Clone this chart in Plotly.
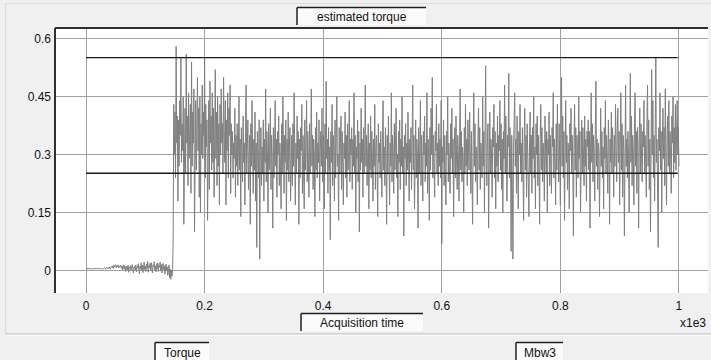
import numpy as np
import plotly.graph_objects as go

# ---------------- data ----------------
sample_step = 0.001  # x1e3 time units between samples

# idle phase, torque in thousandths
torque_idle_milli = [
    5, 5, 4, 5, 5, 6, 5, 4, 5, 5, 6, 5, 5, 4, 5, 6, 5, 5, 6, 7, 5, 4, 5, 6, 6, 5, 4, 6, 5, 5,
    6, 8, 5, 4, 7, 9, 6, 5, 8, 10, 7, 4, 9, 11, 8, 12, 6, 14, 9, 11, 16, 8, 13, 10, 15, 7, 12, 9, 14, 11,
    6, 13, 2, 10, 15, 4, 11, -2, 8, 12, 3, 14, -4, 9, 6, 13, 0, 10, 16, 5, -6, 8, 12, 2, 15, -3, 10, 7, 18, 4,
    -8, 12, 5, 20, 1, 14, -5, 9, 22, 3, 11, -2, 17, 6, 24, -4, 13, 8, 19, 0, 21, 7, -6, 15, 10, 23, 2, 12, -3, 18,
    5, 20, -2, 14, 9, 22, 1, 16, -6, 11, 19, 3, 13, -9, 8, 17, 0, 10, -12, 6, 15, -18, 4, -22, 2, -14, 3,
]

# loaded phase, torque in hundredths
torque_loaded_centi = [
    8, 43, 30, 41, 24, 58, 33, 40, 18, 39, 27, 44, 35, 55, 28, 38, 31, 45, 12, 34, 42, 25, 56, 33, 40, 22, 46, 29, 38, 43, 20, 54, 27, 41, 33, 47, 10, 36, 44, 26, 39, 50, 31, 42, 19, 45, 15, 38, 30, 48,
    29, 41, 35, 55, 24, 43, 32, 39, 13, 37, 44, 21, 49, 33, 40, 26, 46, 28, 42, 19, 36, 52, 29, 41, 22, 45, 27, 38, 17, 43, 30, 47, 33, 38, 25, 50, 36, 28, 44, 17, 39, 31, 46, 24, 42, 35, 48, 20, 38, 30,
    36, 24, 33, 29, 42, 19, 35, 27, 38, 22, 31, 45, 26, 34, 14, 37, 30, 23, 40, 28, 33, 17, 36, 48, 25, 32, 39, 21, 29, 35, 12, 38, 27, 44, 30, 20, 34, 26, 41, 18, 33, 6, 36, 28, 24, 39, 3, 31, 37, 22,
    32, 25, 39, 18, 34, 28, 47, 23, 36, 30, 15, 38, 26, 33, 42, 21, 35, 29, 11, 37, 24, 31, 44, 27, 34, 19, 36, 30, 40, 22, 33, 27, 16, 38, 25, 45, 31, 20, 35, 28, 39, 13, 34, 26, 41, 23, 32, 37, 18, 30,
    35, 22, 38, 27, 46, 30, 17, 33, 25, 40, 29, 36, 12, 34, 24, 37, 31, 43, 20, 35, 28, 16, 39, 26, 33, 44, 23, 36, 29, 19, 38, 25, 32, 47, 27, 35, 21, 34, 30, 14, 37, 26, 41, 24, 33, 28, 39, 18, 31, 36,
    27, 42, 23, 35, 30, 16, 38, 25, 49, 29, 34, 20, 37, 26, 32, 8, 36, 28, 43, 22, 35, 31, 18, 39, 24, 33, 45, 27, 30, 13, 37, 25, 34, 40, 21, 36, 28, 17, 33, 29, 41, 24, 35, 19, 38, 26, 31, 44, 23, 34,
    30, 37, 21, 34, 27, 46, 25, 35, 15, 32, 29, 39, 23, 36, 10, 33, 26, 42, 28, 34, 19, 37, 25, 31, 48, 27, 35, 22, 30, 38, 16, 33, 26, 40, 24, 36, 29, 18, 34, 27, 43, 21, 32, 35, 25, 14, 38, 28, 33, 24,
    36, 27, 19, 34, 44, 26, 32, 22, 37, 29, 12, 35, 25, 40, 30, 17, 33, 27, 46, 23, 35, 31, 20, 38, 26, 33, 42, 24, 30, 14, 36, 28, 39, 21, 34, 27, 45, 25, 32, 9, 35, 29, 38, 22, 33, 26, 41, 30, 18, 34,
    28, 37, 21, 33, 48, 26, 35, 16, 31, 39, 24, 34, 29, 11, 37, 25, 32, 44, 22, 35, 28, 18, 36, 30, 40, 23, 33, 27, 46, 20, 34, 29, 13, 37, 26, 42, 30, 50, 24, 35, 28, 19, 36, 31, 43, 25, 33, 22, 38, 27,
    34, 24, 44, 7, 32, 28, 39, 22, 35, 27, 17, 36, 30, 45, 23, 33, 26, 20, 38, 29, 42, 25, 34, 14, 31, 37, 24, 40, 28, 21, 35, 30, 18, 33, 47, 26, 36, 23, 32, 29, 15, 37, 25, 43, 27, 34, 22, 39, 30, 26,
    41, 28, 20, 36, 25, 12, 34, 46, 27, 38, 23, 32, 29, 17, 35, 42, 26, 37, 21, 33, 30, 24, 45, 27, 36, 15, 32, 53, 28, 22, 35, 38, 11, 31, 41, 25, 34, 29, 19, 37, 32, 43, 24, 36, 16, 33, 27, 40, 23, 35,
    31, 44, 26, 38, 21, 34, 15, 36, 29, 48, 25, 40, 27, 18, 35, 32, 51, 24, 37, 29, 5, 35, 22, 3, 31, 39, 46, 27, 34, 20, 40, 28, 16, 36, 30, 43, 25, 33, 23, 37, 28, 13, 34, 42, 26, 35, 19, 38, 30, 24,
    14, 33, 41, 25, 35, 20, 37, 29, 45, 24, 32, 16, 38, 30, 40, 22, 35, 27, 12, 34, 43, 26, 37, 23, 33, 29, 18, 40, 31, 25, 36, 15, 34, 30, 41, 22, 35, 28, 20, 37, 32, 46, 24, 34, 29, 17, 38, 26, 43, 31,
    23, 38, 29, 17, 34, 50, 27, 40, 24, 36, 13, 32, 44, 28, 35, 21, 33, 30, 16, 38, 31, 42, 25, 35, 27, 9, 33, 43, 26, 37, 19, 35, 31, 24, 45, 29, 36, 15, 33, 39, 25, 37, 30, 22, 40, 27, 34, 18, 36, 32,
    39, 26, 36, 11, 32, 46, 28, 38, 23, 35, 30, 18, 37, 49, 27, 34, 21, 33, 31, 14, 38, 42, 27, 36, 24, 32, 16, 37, 29, 44, 25, 35, 30, 20, 39, 33, 12, 34, 28, 41, 25, 37, 31, 19, 35, 27, 43, 29, 23, 36,
    42, 28, 36, 17, 34, 46, 26, 38, 19, 35, 31, 9, 37, 48, 27, 34, 24, 36, 29, 15, 33, 51, 28, 40, 22, 35, 31, 17, 38, 46, 27, 36, 20, 37, 32, 11, 34, 42, 25, 38, 29, 23, 36, 32, 44, 25, 35, 28, 19, 39,
    48, 27, 39, 21, 34, 10, 36, 52, 30, 44, 24, 35, 18, 38, 55, 28, 34, 20, 6, 37, 31, 46, 26, 36, 15, 33, 42, 29, 37, 22, 47, 30, 17, 35, 40, 27, 44, 25, 36, 29, 20, 40, 33, 45, 24, 37, 28, 43, 26, 35,
    44, 30, 37, 27,
]

limit_upper = 0.551
limit_lower = 0.252
limit_span = [0.0, 0.998]

x_ticks = [0, 0.2, 0.4, 0.6, 0.8, 1.0]
x_tick_labels = ["0", "0.2", "0.4", "0.6", "0.8", "1"]
y_ticks = [0, 0.15, 0.3, 0.45, 0.6]
y_tick_labels = ["0", "0.15", "0.3", "0.45", "0.6"]

# ---------------- figure ----------------
torque = [v / 1000 for v in torque_idle_milli] + [v / 100 for v in torque_loaded_centi]
time = np.arange(len(torque)) * sample_step

W, H = 711, 360
L, R, T, B = 55, 3, 28, 67
PW, PH = W - L - R, H - T - B


def px(xp):
    return (xp - L) / PW


def py(yp):
    return (H - B - yp) / PH


FONT = "Liberation Sans"
GRID = "#a0a0a0"
DARK = "#303030"

fig = go.Figure()
fig.add_trace(go.Scatter(x=time, y=torque, mode="lines",
                         line=dict(color="#7f7f7f", width=1),
                         hoverinfo="skip", showlegend=False))
for lvl in (limit_upper, limit_lower):
    fig.add_trace(go.Scatter(x=limit_span, y=[lvl, lvl], mode="lines",
                             line=dict(color="#1a1a1a", width=1.4),
                             hoverinfo="skip", showlegend=False))

shapes = []
shapes.append(dict(type="line", xref="paper", yref="paper", x0=0, x1=0, y0=0, y1=1,
                   line=dict(color=DARK, width=2)))
shapes.append(dict(type="line", xref="paper", yref="paper", x0=0, x1=1, y0=1, y1=1,
                   line=dict(color=DARK, width=2)))
shapes.append(dict(type="line", xref="paper", yref="paper", x0=px(5), x1=px(711), y0=py(334), y1=py(334),
                   line=dict(color="#b4b4b4", width=1)))
shapes.append(dict(type="line", xref="paper", yref="paper", x0=px(5), x1=px(711), y0=py(335.2), y1=py(335.2),
                   line=dict(color="#ffffff", width=1)))
shapes.append(dict(type="line", xref="paper", yref="paper", x0=px(5.5), x1=px(5.5), y0=py(333), y1=py(3),
                   line=dict(color="#dcdcdc", width=1)))
shapes.append(dict(type="line", xref="paper", yref="paper", x0=px(5.5), x1=px(711), y0=py(3.5), y1=py(3.5),
                   line=dict(color="#dcdcdc", width=1)))


def sunken_box(x0, y0, x1, y1, text):
    shapes.append(dict(type="rect", xref="paper", yref="paper", x0=px(x0), x1=px(x1), y0=py(y1), y1=py(y0),
                       fillcolor="#fbfbfb", line=dict(width=0)))
    shapes.append(dict(type="line", xref="paper", yref="paper", x0=px(x0), x1=px(x1), y0=py(y0), y1=py(y0),
                       line=dict(color="#202020", width=1.5)))
    shapes.append(dict(type="line", xref="paper", yref="paper", x0=px(x0), x1=px(x0), y0=py(y0), y1=py(y1),
                       line=dict(color="#202020", width=1.5)))
    fig.add_annotation(x=px((x0 + x1) / 2), y=py((y0 + y1) / 2 + 0.5), xref="paper", yref="paper",
                       text=text, showarrow=False, xanchor="center", yanchor="middle",
                       font=dict(family=FONT, size=12, color="#111111"))


sunken_box(297, 7.5, 426, 25, "estimated torque")
sunken_box(301, 313.5, 423, 331, "Acquisition time")
sunken_box(155, 342.5, 209, 362, "Torque")
sunken_box(516, 342.5, 563, 362, "Mbw3")

fig.add_annotation(x=px(708), y=py(323), xref="paper", yref="paper", text="x1e3",
                   showarrow=False, xanchor="right", yanchor="middle",
                   font=dict(family=FONT, size=12, color="#111111"))

fig.update_layout(
    width=W, height=H,
    margin=dict(l=L, r=R, t=T, b=B, pad=0),
    paper_bgcolor="#f0f0f0", plot_bgcolor="#ffffff",
    shapes=shapes,
    showlegend=False,
    font=dict(family=FONT, size=12, color="#111111"),
)
fig.update_xaxes(range=[-0.0523, 1.049], tickvals=x_ticks, ticktext=x_tick_labels,
                 showgrid=True, gridcolor=GRID, gridwidth=1, zeroline=False,
                 showline=False, ticks="", ticklabelstandoff=4,
                 tickfont=dict(family=FONT, size=12, color="#111111"))
fig.update_yaxes(range=[-0.0577, 0.6276], tickvals=y_ticks, ticktext=y_tick_labels,
                 showgrid=True, gridcolor=GRID, gridwidth=1, zeroline=False,
                 showline=False, ticks="", ticklabelstandoff=3,
                 tickfont=dict(family=FONT, size=12, color="#111111"))

fig.write_html("out.html")
